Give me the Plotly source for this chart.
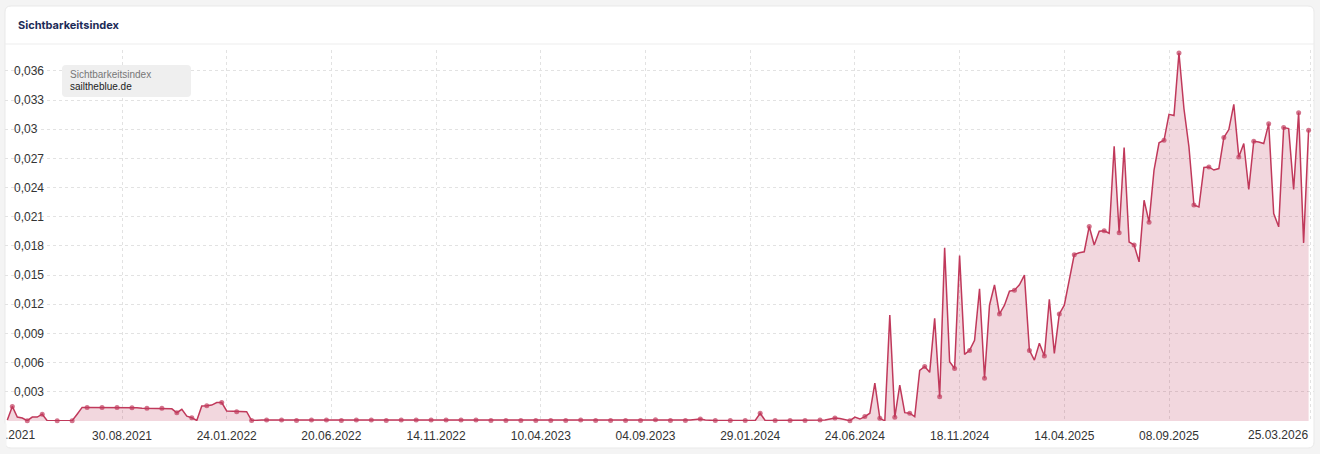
import plotly.graph_objects as go
import pandas as pd

# ---------------- data ----------------
START_WEEK = "2021-03-22"          # first weekly value (Mondays)
metric_name = "Sichtbarkeitsindex"
series_name = "sailtheblue.de"

vals_2021 = [0.0001, 0.0015, 0.0004, 0.0003, 0.00003, 0.0004, 0.0004, 0.0007, 0.00003, 0.00003,
             0.00003, 0.00003, 0.00003, 0.00003, 0.0007, 0.0014, 0.0014, 0.0014, 0.0014, 0.0014,
             0.00138, 0.0014, 0.0014, 0.00135, 0.00135, 0.00135, 0.00135, 0.0013, 0.0013, 0.0013,
             0.0013, 0.0013, 0.0013, 0.00125, 0.00085, 0.0012, 0.0005, 0.00034, 0.00005, 0.00154,
             0.00157]
vals_2022 = [0.00164, 0.0019, 0.0019, 0.00103, 0.00103, 0.00096, 0.00096, 0.00096, 0.00005, 0.0001,
             0.0001, 0.0001, 0.0001, 0.00008, 0.0001, 0.00008, 0.00006, 0.00005, 0.00008, 0.0001,
             0.0001, 0.0001, 0.0001, 0.0001, 0.0001, 0.00006, 0.00006, 0.0001, 0.0001, 0.0001,
             0.0001, 0.0001, 0.0001, 0.00008, 0.00005, 0.00005, 0.00008, 0.0001, 0.0001, 0.0001,
             0.0001, 0.0001, 0.0001, 0.0001, 0.0001, 0.0001, 0.0001, 0.0001, 0.0001, 0.0001,
             0.0001, 0.0001]
vals_2023 = [0.0001, 0.0001, 0.00008, 0.00005, 0.00005, 0.00005, 0.00005, 0.00005, 0.00005, 0.00005,
             0.00005, 0.00005, 0.00005, 0.00005, 0.00005, 0.00005, 0.00005, 0.00005, 0.00005, 0.00005,
             0.00008, 0.0001, 0.0001, 0.00008, 0.00005, 0.00005, 0.00005, 0.00005, 0.00005, 0.00005,
             0.00005, 0.00005, 0.00005, 0.00005, 0.00005, 0.00008, 0.0001, 0.00012, 0.0001, 0.00005,
             0.00005, 0.00005, 0.00005, 0.00005, 0.0001, 0.00015, 0.0002, 0.0001, 0.00005, 0.00005,
             0.00005, 0.00005]
vals_2024 = [0.00005, 0.00005, 0.00005, 0.00005, 0.00005, 0.00005, 0.0008, 0.00005, 0.00005, 0.00005,
             0.00005, 0.00005, 0.00005, 0.00005, 0.00005, 0.00005, 0.00005, 0.00005, 0.0001, 0.0001,
             0.0002, 0.0003, 0.00025, 0.0001, 0.00003, 0.0004, 0.0002, 0.00045, 0.0008, 0.0039,
             0.00027, 0.00002, 0.0109, 0.00038, 0.0037, 0.00086, 0.0008, 0.00045, 0.0052, 0.0056,
             0.005, 0.01055, 0.0025, 0.0178, 0.0061, 0.0054, 0.017, 0.00685, 0.00726, 0.0083,
             0.0136, 0.0044, 0.0119]
vals_2025 = [0.014, 0.011, 0.0119, 0.01335, 0.01345, 0.014, 0.015, 0.00726, 0.00626, 0.008,
             0.00668, 0.0125, 0.00695, 0.011, 0.0119, 0.01448, 0.0171, 0.0173, 0.0174, 0.02,
             0.0181, 0.0195, 0.01955, 0.0193, 0.02825, 0.01935, 0.0281, 0.0184, 0.0181, 0.01636,
             0.0227, 0.02044, 0.0258, 0.0286, 0.02886, 0.03153, 0.0314, 0.03783, 0.0321, 0.02818,
             0.0222, 0.022, 0.02606, 0.02612, 0.0258, 0.02595, 0.02914, 0.02996, 0.03256, 0.02715,
             0.02852, 0.0238]
vals_2026 = [0.02876, 0.02869, 0.02852, 0.03057, 0.02133, 0.01996, 0.03016, 0.03006, 0.0238, 0.0317,
             0.01831, 0.0299]

values = vals_2021 + vals_2022 + vals_2023 + vals_2024 + vals_2025 + vals_2026
dates = pd.date_range(START_WEEK, periods=len(values), freq="7D")

tick_dates = ["2021-03-19", "2021-08-30", "2022-01-24", "2022-06-20", "2022-11-14",
              "2023-04-10", "2023-09-04", "2024-01-29", "2024-06-24", "2024-11-18",
              "2025-04-14", "2025-09-08", "2026-03-25"]
y_ticks = [0.003, 0.006, 0.009, 0.012, 0.015, 0.018, 0.021, 0.024, 0.027, 0.030, 0.033, 0.036]

# ---------------- styling / layout ----------------
W, H = 1320, 454
ML, MR, MT, MB = 5, 6, 50, 33
PW, PH = W - ML - MR, H - MT - MB

LINE = "#c0395b"
FILL = "rgba(192,57,91,0.2)"
GRID = "#e2e2e2"
OUTER = "#f4f4f4"
TICKFONT = dict(family="Liberation Sans, Arial, sans-serif", size=12, color="#333333")


def px_x(p):
    return (p - ML) / PW


def px_y(p):
    return (H - MB - p) / PH


def rounded_rect(x0, y0, x1, y1, r):
    X0, X1 = px_x(x0), px_x(x1)
    Y0, Y1 = px_y(y0), px_y(y1)          # Y0 top, Y1 bottom (paper coords)
    rx, ry = r / PW, r / PH
    return (f"M {X0+rx} {Y0} L {X1-rx} {Y0} Q {X1} {Y0} {X1} {Y0-ry} "
            f"L {X1} {Y1+ry} Q {X1} {Y1} {X1-rx} {Y1} "
            f"L {X0+rx} {Y1} Q {X0} {Y1} {X0} {Y1+ry} "
            f"L {X0} {Y0-ry} Q {X0} {Y0} {X0+rx} {Y0} Z")


n = len(values)
marker_sizes = [5 if (i % 3 == 1 or i == n - 1) else 0 for i in range(n)]

fig = go.Figure()
fig.add_trace(go.Scatter(
    x=dates, y=values, name=series_name, mode="lines+markers",
    line=dict(color=LINE, width=1.5),
    marker=dict(size=marker_sizes, color=LINE, line=dict(width=0)),
    fill="tozeroy", fillcolor=FILL, cliponaxis=False,
    hoverinfo="x+y",
))

tick_text = [pd.Timestamp(d).strftime("%d.%m.%Y") for d in tick_dates]
shown_text = [""] + tick_text[1:-1] + [""]   # first / last drawn as edge-aligned labels

shapes = [
    dict(type="path", xref="paper", yref="paper", path=rounded_rect(5, 6, 1314, 448, 6),
         fillcolor="white", line=dict(color="#e9e9e9", width=1), layer="below"),
    dict(type="line", xref="paper", yref="paper", x0=px_x(5), x1=px_x(1314),
         y0=px_y(44), y1=px_y(44), line=dict(color="#ededed", width=1), layer="below"),
    dict(type="path", xref="paper", yref="paper", path=rounded_rect(62, 65, 191, 97, 4),
         fillcolor="#efefef", line=dict(width=0), layer="above"),
]

annotations = [
    dict(text=f"<b>{metric_name}</b>", xref="paper", yref="paper", x=px_x(16), y=px_y(25),
         xanchor="left", yanchor="middle", showarrow=False,
         font=dict(family="Inter, sans-serif", size=11, color="#1c2b58")),
    dict(text=metric_name, xref="paper", yref="paper", x=px_x(68), y=px_y(74),
         xanchor="left", yanchor="middle", showarrow=False,
         font=dict(family="Liberation Sans, Arial, sans-serif", size=10, color="#777777")),
    dict(text=series_name, xref="paper", yref="paper", x=px_x(68), y=px_y(87),
         xanchor="left", yanchor="middle", showarrow=False,
         font=dict(family="Liberation Sans, Arial, sans-serif", size=10, color="#222222")),
    # first tick label, centred on its tick and cut by the card edge
    dict(text=tick_text[0], xref="x", yref="paper", x=tick_dates[0], y=px_y(435),
         xanchor="center", yanchor="middle", showarrow=False, font=TICKFONT),
    # mask outside the card (left of x = 5px)
    dict(text=" ", xref="paper", yref="paper", x=px_x(-3), y=px_y(435),
         xanchor="left", yanchor="middle", showarrow=False, width=8, height=22,
         bgcolor=OUTER, borderpad=0, font=dict(size=4)),
    # last tick label, right-aligned to its tick
    dict(text=tick_text[-1], xref="x", yref="paper", x=tick_dates[-1], y=px_y(435),
         xanchor="right", yanchor="middle", showarrow=False, font=TICKFONT),
]

fig.update_layout(
    width=W, height=H, margin=dict(l=ML, r=MR, t=MT, b=MB, autoexpand=False),
    paper_bgcolor=OUTER, plot_bgcolor="rgba(0,0,0,0)",
    separators=",.", showlegend=False,
    shapes=shapes, annotations=annotations,
    xaxis=dict(type="date", range=["2021-03-18 17:30", "2026-03-30 14:00"],
               tickmode="array", tickvals=tick_dates, ticktext=shown_text,
               automargin=False,
               showgrid=True, gridcolor=GRID, griddash="3px,3px", gridwidth=1,
               zeroline=False, showline=False, ticks="", tickfont=TICKFONT,
               ticklabelstandoff=6),
    yaxis=dict(range=[0, 0.03814], tickmode="array", tickvals=y_ticks, tickformat=".3~f",
               ticklabelposition="inside", ticklabelstandoff=6, automargin=False,
               showgrid=True, gridcolor=GRID, griddash="3px,3px", gridwidth=1,
               zeroline=False, showline=False, ticks="", tickfont=TICKFONT),
)

fig.write_html("out.html", config={"displayModeBar": False},
               post_script="document.body.style.margin='0';")
